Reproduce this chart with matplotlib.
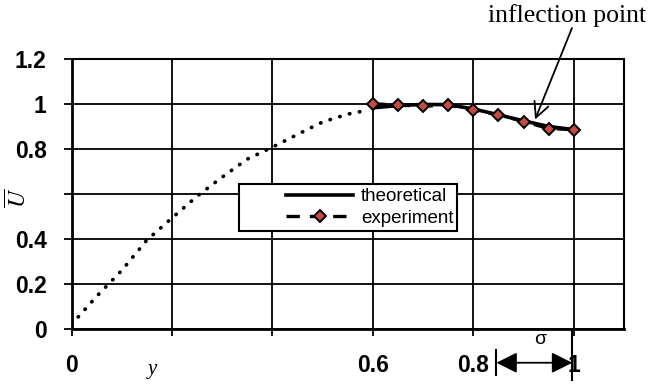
import numpy as np
import matplotlib
matplotlib.use("Agg")
import matplotlib.pyplot as plt
from matplotlib.legend_handler import HandlerLine2D

plt.rcParams['font.family'] = ['Liberation Sans', 'DejaVu Sans']
plt.rcParams['mathtext.fontset'] = 'stix'

# velocity profile, near-wall part (dotted, no legend entry)
y_inner = [0.0, 0.05, 0.1, 0.15, 0.2, 0.25, 0.3, 0.35, 0.4, 0.45, 0.5, 0.55, 0.58]
u_inner = [0.02, 0.145, 0.26, 0.395, 0.493, 0.59, 0.675, 0.755, 0.808, 0.865, 0.92, 0.955, 0.968]

# outer part: theory vs measurement
y_outer = [0.6, 0.65, 0.7, 0.75, 0.8, 0.85, 0.9, 0.95, 1.0]
u_theory = [0.983, 0.993, 0.998, 0.997, 0.978, 0.952, 0.925, 0.900, 0.886]
u_exp = [1.001, 0.995, 0.990, 0.995, 0.972, 0.952, 0.922, 0.891, 0.886]

xticks = [0, 0.2, 0.4, 0.6, 0.8, 1.0]
xticklabels = ['0', '', '', '0.6', '0.8', '1']
yticks = [0, 0.2, 0.4, 0.6, 0.8, 1.0, 1.2]
yticklabels = ['0', '0.2', '0.4', '', '0.8', '1', '1.2']

# boundary layer thickness marker
sigma_left, sigma_right = 0.846, 0.997
inflection = (0.923, 0.931)


class PaddedLine(HandlerLine2D):
    # leave blank space in front of the legend line
    def get_xdata(self, legend, xdescent, ydescent, width, height, fontsize):
        x0 = -xdescent + 0.39 * width
        x1 = -xdescent + width
        return np.array([x0, x1]), np.array([(x0 + x1) / 2])


fig = plt.figure(figsize=(6.5, 3.86), dpi=100)
ax = fig.add_axes([0.11, 0.1477, 0.85, 0.6995])

ax.plot(y_inner, u_inner, color='black', lw=2.7, linestyle=(0, (0.1, 2.6)),
        dash_capstyle='round', zorder=3)
ax.plot(y_outer, u_theory, color='black', lw=2.6, label='theoretical', zorder=3)
ax.plot(y_outer, u_exp, color='black', lw=2.4, linestyle=(0, (4, 3)),
        marker='D', markersize=6, markerfacecolor='#c44a44',
        markeredgecolor='black', markeredgewidth=1.4, label='experiment', zorder=4)

ax.set_xlim(0, 1.1)
ax.set_ylim(0, 1.2)
ax.set_xticks(xticks, xticklabels)
ax.set_yticks(yticks, yticklabels)
ax.grid(True, color='black', lw=1.3)
ax.set_axisbelow(True)
for s in ax.spines.values():
    s.set_linewidth(1.5)
ax.spines['left'].set_linewidth(2.0)
ax.spines['bottom'].set_linewidth(2.0)
ax.tick_params(axis='y', length=6, width=1.3, pad=12, labelsize=16.5)
ax.tick_params(axis='x', length=5, width=1.3, pad=13, labelsize=16.5)
for lab in ax.get_xticklabels() + ax.get_yticklabels():
    lab.set_fontweight('bold')

leg = ax.legend(loc='upper left', bbox_to_anchor=(0.303, 0.536), borderaxespad=0,
                fontsize=13.5, handlelength=5.9, handletextpad=0.4, borderpad=0.2,
                labelspacing=0.25, fancybox=False, framealpha=1, edgecolor='black',
                handler_map={plt.Line2D: PaddedLine(numpoints=1)})
leg.get_frame().set_linewidth(1.5)

# axis labels placed by hand
ax.text(0.161, -0.178, 'y', fontsize=15, family='Liberation Serif', style='italic',
        ha='center', va='center', clip_on=False)
fig.text(19 / 650, 1 - 198 / 386, r'$\overline{U}$', fontsize=17, rotation=90,
         ha='center', va='center')

# sigma dimension arrow
ax.annotate('', xy=(sigma_right, -0.15), xytext=(sigma_left, -0.15),
            arrowprops=dict(arrowstyle='<|-|>,head_length=0.7,head_width=0.35',
                            mutation_scale=18, lw=1.3, color='black',
                            shrinkA=0, shrinkB=0),
            annotation_clip=False)
ax.plot([sigma_left, sigma_left], [-0.094, -0.205], color='black', lw=1.5, clip_on=False)
ax.plot([sigma_right, sigma_right], [0, -0.227], color='black', lw=1.5, clip_on=False)
ax.text((sigma_left + sigma_right) / 2 + 0.012, -0.045, 'σ', fontsize=14,
        ha='center', va='center', clip_on=False)

# inflection point callout
fig.text(567 / 650, 1 - 16 / 386, 'inflection point', fontsize=18.5,
         family='Liberation Serif', ha='center', va='center')
ax.annotate('', xy=inflection, xytext=(572, 386 - 28), textcoords='figure pixels',
            arrowprops=dict(arrowstyle='->,head_length=0.6,head_width=0.3',
                            mutation_scale=18, lw=1.3, color='black',
                            shrinkA=0, shrinkB=0),
            annotation_clip=False)

fig.savefig('out.png', dpi=100)
